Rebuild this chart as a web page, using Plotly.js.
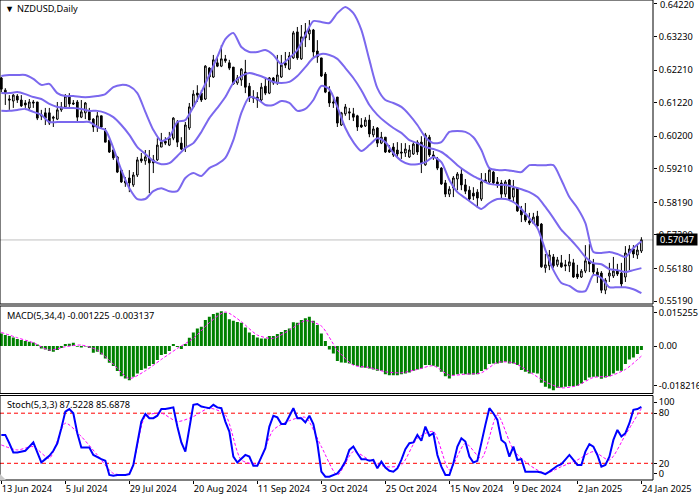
<!DOCTYPE html>
<html>
<head>
<meta charset="utf-8">
<script src="https://cdn.plot.ly/plotly-3.0.1.min.js"></script>
<style>
    html, body { margin: 0; padding: 0; background: #fff; }
</style>
</head>
<body>
<div id="chart" style="width:699px;height:497px"></div>
<script>
// daily candles, in 1/10000 of a dollar
const opens = [
    6197,6160,6133,6127,6142,6130,6121,6106,6124,6124,
    6085,6091,6091,6078,6072,6100,6109,6139,6121,6124,
    6078,6091,6094,6072,6048,6082,6036,6008,5978,5957,
    5917,5884,5893,5872,5902,5951,5945,5954,5948,5948,
    5987,6005,5993,6014,6063,5999,5984,6045,6109,6151,
    6151,6133,6227,6200,6243,6233,6255,6243,6230,6182,
    6191,6215,6172,6139,6139,6130,6172,6151,6197,6182,
    6200,6243,6224,6258,6337,6255,6337,6331,6343,6279,
    6258,6209,6154,6124,6139,6054,6088,6094,6088,6082,
    6054,6051,6069,6024,6045,5999,6017,5978,5987,5978,
    5972,5969,5957,5966,6002,6002,5933,6017,5963,5951,
    5923,5878,5844,5863,5890,5905,5872,5856,5847,5850,
    5829,5887,5881,5911,5881,5878,5844,5887,5835,5862,
    5796,5781,5762,5756,5777,5753,5620,5626,5653,5629,
    5635,5629,5626,5635,5601,5592,5610,5641,5632,5607,
    5604,5552,5595,5595,5610,5604,5592,5665,5677,5659,5671
];
const highs = [
    6200,6166,6145,6148,6148,6145,6130,6133,6130,6124,
    6100,6106,6106,6082,6124,6124,6148,6151,6130,6130,
    6130,6124,6106,6075,6094,6082,6045,6008,5981,5960,
    5917,5896,5917,5911,5957,5969,5978,5978,5963,6014,
    6030,6017,6033,6078,6069,6017,6063,6121,6160,6175,
    6160,6236,6230,6267,6258,6297,6267,6252,6230,6206,
    6227,6252,6182,6160,6154,6182,6200,6200,6200,6267,
    6267,6276,6276,6340,6352,6358,6364,6373,6346,6312,
    6258,6215,6172,6136,6139,6094,6118,6106,6106,6085,
    6075,6078,6085,6051,6048,6033,6017,5993,5999,6002,
    5999,5999,5993,6002,6008,6020,6030,6024,5975,5957,
    5926,5887,5868,5899,5911,5920,5890,5868,5865,5859,
    5908,5908,5923,5914,5896,5887,5887,5890,5887,5865,
    5808,5817,5787,5787,5793,5756,5662,5674,5662,5653,
    5659,5644,5662,5647,5629,5616,5689,5692,5647,5619,
    5610,5589,5635,5653,5632,5635,5686,5689,5689,5692,5713
];
const lows = [
    6154,6115,6100,6106,6121,6109,6106,6100,6106,6069,
    6069,6054,6054,6048,6069,6094,6106,6109,6115,6066,
    6075,6072,6069,6033,6033,6045,6002,5969,5948,5908,
    5878,5866,5850,5866,5896,5939,5933,5847,5908,5945,
    5987,5993,5990,6008,5987,5978,5972,6039,6106,6124,
    6124,6130,6169,6197,6230,6230,6243,6221,6176,6176,
    6173,6151,6124,6121,6106,6124,6145,6148,6176,6176,
    6197,6227,6221,6255,6252,6252,6291,6312,6261,6243,
    6200,6151,6109,6106,6048,6051,6082,6069,6066,6036,
    6045,6048,6017,6017,5987,5996,5969,5969,5957,5954,
    5951,5957,5954,5963,5963,5908,5930,5957,5948,5917,
    5872,5835,5835,5835,5856,5856,5844,5823,5826,5802,
    5823,5878,5878,5872,5863,5829,5835,5826,5817,5790,
    5759,5759,5750,5753,5744,5620,5605,5613,5620,5623,
    5620,5610,5607,5589,5586,5589,5604,5607,5598,5574,
    5543,5540,5577,5589,5595,5562,5577,5613,5650,5647,5665
];
const closes = [
    6163,6151,6130,6145,6130,6112,6115,6124,6121,6075,
    6082,6075,6060,6075,6100,6109,6142,6118,6118,6078,
    6094,6121,6069,6048,6082,6048,6002,5972,5954,5911,
    5881,5878,5878,5902,5948,5945,5957,5939,5939,5993,
    6002,5999,6014,6075,6002,5981,6054,6109,6148,6145,
    6130,6233,6200,6252,6233,6255,6249,6227,6179,6197,
    6224,6169,6136,6136,6130,6169,6151,6197,6182,6206,
    6236,6236,6264,6334,6258,6322,6319,6343,6276,6261,
    6203,6154,6121,6121,6060,6091,6109,6091,6078,6048,
    6048,6069,6027,6042,5999,6017,5972,5972,5963,5966,
    5969,5981,5978,5996,5972,5939,6024,5963,5957,5923,
    5875,5844,5859,5893,5905,5872,5853,5829,5838,5832,
    5881,5881,5917,5878,5875,5844,5881,5829,5862,5793,
    5781,5765,5756,5774,5747,5623,5629,5659,5626,5644,
    5623,5626,5638,5592,5592,5610,5641,5632,5607,5598,
    5552,5583,5604,5610,5601,5571,5665,5677,5662,5674,5705
];

// bollinger bands, one reading every second bar
const bandUpper = [
    6203,6206,6206,6206,6194,6176,6179,6151,6142,6142,
    6139,6139,6142,6148,6169,6176,6172,6151,6094,6039,
    6005,6017,6063,6069,6109,6154,6206,6261,6315,6334,
    6291,6276,6276,6282,6267,6239,6258,6282,6328,6370,
    6367,6364,6394,6413,6394,6343,6252,6166,6130,6121,
    6109,6085,6054,6017,5999,6002,6033,6036,6033,6017,
    5978,5923,5917,5917,5914,5911,5932,5932,5932,5932,
    5887,5835,5802,5756,5668,5665,5668,5662,5653,5680,5701
];
const bandMiddle = [
    6151,6151,6154,6148,6139,6133,6118,6109,6106,6106,
    6103,6097,6097,6091,6078,6054,6024,5987,5966,5945,
    5935,5938,5960,5984,5999,6033,6075,6106,6139,6182,
    6203,6212,6206,6197,6185,6182,6185,6203,6230,6258,
    6270,6267,6255,6227,6197,6160,6115,6085,6063,6045,
    6030,6008,5999,5987,5981,5972,5954,5932,5914,5899,
    5887,5875,5872,5872,5866,5859,5850,5835,5805,5771,
    5735,5710,5683,5653,5634,5631,5616,5613,5607,5613,5619
];
const bandLower = [
    6097,6097,6100,6103,6094,6085,6063,6063,6063,6063,
    6063,6063,6048,6039,5984,5917,5862,5829,5829,5853,
    5862,5853,5853,5893,5908,5899,5923,5935,5954,6008,
    6091,6139,6133,6115,6115,6127,6121,6097,6103,6130,
    6173,6163,6109,6045,6002,5975,5993,6014,6002,5969,
    5945,5935,5935,5941,5957,5941,5887,5850,5832,5814,
    5799,5817,5829,5829,5820,5799,5771,5741,5674,5613,
    5574,5565,5549,5549,5598,5589,5561,5561,5561,5555,5543
];

// MACD histogram per bar and signal every fourth bar, in 1/100000
const macdHist = [
    585,508,462,400,323,277,231,200,169,77,
    -108,-154,-231,-262,-185,-92,92,108,154,-31,
    -62,-15,-92,-308,-262,-385,-570,-770,-924,-1155,
    -1386,-1494,-1571,-1417,-1263,-1109,-1032,-924,-832,-647,
    -416,-370,-231,92,-46,-139,92,385,631,816,
    893,1201,1355,1478,1540,1602,1540,1232,1170,1109,
    1078,862,631,508,400,354,354,462,462,554,
    647,739,816,1093,1078,1201,1278,1355,1170,970,
    585,231,-154,-339,-693,-755,-770,-801,-878,-924,
    -986,-1001,-1032,-1078,-1140,-1140,-1294,-1340,-1340,-1340,
    -1294,-1263,-1217,-1140,-1078,-1032,-878,-878,-909,-955,
    -1186,-1386,-1494,-1340,-1294,-1263,-1294,-1309,-1309,-1294,
    -1155,-1063,-832,-801,-801,-770,-724,-801,-801,-878,
    -1109,-1186,-1263,-1232,-1263,-1694,-1879,-1956,-2033,-1925,
    -1910,-1879,-1848,-1848,-1833,-1725,-1571,-1448,-1417,-1417,
    -1509,-1448,-1386,-1263,-1140,-1140,-832,-616,-524,-370,-185
];
const macdSignal = [
    631,385,154,-185,-31,46,-185,-832,-1494,-1140,
    -616,-108,354,1078,1571,1124,508,354,739,1170,
    924,-185,-878,-986,-1186,-1232,-1078,-909,-1340,-1294,
    -1232,-755,-770,-1186,-1648,-1925,-1817,-1448,-1386,-1078,-462
];

// stochastic: %K per bar, %D every fourth bar
const stochK = [
    54,54,44,33,33,34,35,40,45,33,
    21,25,29,35,44,62,82,85,80,56,
    39,39,39,30,27,25,23,6,5,6,
    6,6,7,18,44,70,79,74,74,77,
    85,85,86,87,64,45,34,64,90,91,
    88,87,86,90,87,86,70,58,28,21,
    25,30,28,17,17,28,38,64,77,75,
    67,67,76,86,74,74,69,77,67,44,
    10,4,4,6,8,14,22,36,40,32,
    25,25,23,24,14,22,15,11,10,14,
    24,37,44,45,54,47,64,53,56,30,
    16,6,6,20,40,50,46,28,21,23,
    46,66,86,80,72,48,44,28,40,24,
    25,10,10,10,10,9,7,10,14,17,
    19,24,30,24,18,18,34,43,40,30,
    16,18,28,48,60,52,56,68,84,85,87.5
];
const stochD = [
    42,36,40,26,68,52,30,8,8,76,
    80,70,76,86,78,24,20,60,71,75,
    40,6,34,24,16,18,50,58,12,44,
    26,78,36,18,8,16,24,34,24,54,85.7
];

const tickDates = ['13 Jun 2024', '5 Jul 2024', '29 Jul 2024', '20 Aug 2024', '11 Sep 2024', '3 Oct 2024',
    '25 Oct 2024', '15 Nov 2024', '9 Dec 2024', '2 Jan 2025', '24 Jan 2025'];
const priceTicks = [0.6422, 0.6323, 0.6221, 0.6122, 0.6020, 0.5921, 0.5819, 0.5720, 0.5618, 0.5519];
const lastPrice = 0.57047;

const FONT = 'Noto Sans, sans-serif';
const FONT_SIZE = 9.2;
const BAND_COLOR = '#7b68ee';
const toPrice = v => v / 10000;

const bars = opens.map((_, i) => i);
const everyNth = n => bars.filter(i => i % n === 0);

// pixel helpers for the labels, plot area is 653 x 480
const px = x => x / 653;
const py = y => (480 - y) / 480;

const band = (values) => ({
    type: 'scatter',
    mode: 'lines',
    x: everyNth(2),
    y: values.map(toPrice),
    line: { color: BAND_COLOR, width: 2, shape: 'spline', smoothing: 0.7 },
    xaxis: 'x',
    yaxis: 'y'
});

const traces = [
    {
        type: 'candlestick',
        x: bars,
        open: opens.map(toPrice),
        high: highs.map(toPrice),
        low: lows.map(toPrice),
        close: closes.map(toPrice),
        whiskerwidth: 0,
        increasing: { line: { color: '#000', width: 1 }, fillcolor: '#fff' },
        decreasing: { line: { color: '#000', width: 1 }, fillcolor: '#000' },
        xaxis: 'x',
        yaxis: 'y'
    },
    band(bandUpper),
    band(bandMiddle),
    band(bandLower),
    {
        type: 'bar',
        x: bars,
        y: macdHist.map(v => v / 100000),
        marker: { color: '#008000', line: { width: 0 } },
        xaxis: 'x',
        yaxis: 'y2'
    },
    {
        type: 'scatter',
        mode: 'lines',
        x: everyNth(4),
        y: macdSignal.map(v => v / 100000),
        line: { color: '#ff00ff', width: 1, dash: '3px,2px', shape: 'spline', smoothing: 0.7 },
        xaxis: 'x',
        yaxis: 'y2'
    },
    {
        type: 'scatter',
        mode: 'lines',
        x: everyNth(4),
        y: stochD,
        line: { color: '#ff00ff', width: 1, dash: '3px,2px', shape: 'spline', smoothing: 0.7 },
        xaxis: 'x',
        yaxis: 'y3'
    },
    {
        type: 'scatter',
        mode: 'lines',
        x: bars,
        y: stochK,
        line: { color: '#0000ff', width: 2 },
        xaxis: 'x',
        yaxis: 'y3'
    }
];

const sideAxis = (domain, range, vals, text) => ({
    domain,
    range,
    side: 'right',
    anchor: 'x',
    tickmode: 'array',
    tickvals: vals,
    ticktext: text,
    ticks: 'outside',
    ticklen: 3,
    tickcolor: '#000',
    showgrid: false,
    zeroline: false,
    showline: false,
    automargin: false,
    fixedrange: true
});

const paneFrame = (ref) => ({
    type: 'rect',
    xref: 'paper',
    yref: ref + ' domain',
    x0: 0, x1: 1, y0: 0, y1: 1,
    line: { color: '#000', width: 1 },
    layer: 'above'
});

const levelLine = (value) => ({
    type: 'line',
    xref: 'paper',
    yref: 'y3',
    x0: 0, x1: 1, y0: value, y1: value,
    line: { color: '#ff0000', width: 1, dash: '4px,3px' },
    layer: 'below'
});

const paneLabel = (text, x, y, color) => ({
    text,
    xref: 'paper',
    yref: 'paper',
    x: px(x),
    y: py(y),
    xanchor: 'left',
    yanchor: 'middle',
    showarrow: false,
    font: { family: FONT, size: FONT_SIZE, color: color || '#000' }
});

const layout = {
    width: 699,
    height: 497,
    margin: { l: 0, r: 46, t: 0, b: 17 },
    paper_bgcolor: '#fff',
    plot_bgcolor: '#fff',
    showlegend: false,
    bargap: 0.25,
    boxgap: 0.4,
    font: { family: FONT, size: FONT_SIZE, color: '#000' },
    xaxis: {
        range: [-0.33, 162.9],
        anchor: 'y3',
        rangeslider: { visible: false },
        tickmode: 'array',
        tickvals: everyNth(16),
        ticktext: tickDates,
        tickangle: 0,
        ticks: 'outside',
        ticklen: 3,
        tickcolor: '#000',
        ticklabelposition: 'outside right',
        showgrid: false,
        zeroline: false,
        fixedrange: true
    },
    // the top price label gets cut by the edge as a tick, so it is an annotation below
    yaxis: sideAxis([py(304), py(0)], [0.5510, 0.6434], priceTicks,
        priceTicks.map((v, i) => (i === 0 ? '' : v.toFixed(5)))),
    yaxis2: sideAxis([py(393.5), py(306)], [-0.02187, 0.01848], [0.015255, 0, -0.018216], ['0.015255', '0.00', '-0.018216']),
    yaxis3: sideAxis([py(480), py(395.5)], [0, 101.2], [93.2, 80, 20, 7.6], ['100', '80', '20', '0']),
    shapes: [
        {
            type: 'line',
            xref: 'paper',
            yref: 'y',
            x0: 0, x1: 1, y0: lastPrice, y1: lastPrice,
            line: { color: '#c0c0c0', width: 1 },
            layer: 'below'
        },
        levelLine(80),
        levelLine(20),
        paneFrame('y'),
        paneFrame('y2'),
        paneFrame('y3'),
        // little corner mark bottom left
        {
            type: 'path',
            xref: 'paper',
            yref: 'paper',
            path: `M 0 ${py(474)} L ${px(6)} ${py(480)} L 0 ${py(480)} Z`,
            fillcolor: '#c8c8c8',
            line: { width: 0 }
        }
    ],
    annotations: [
        paneLabel('▼', 3, 8),
        paneLabel('NZDUSD,Daily', 15, 8),
        paneLabel('MACD(5,34,4) -0.001225 -0.003137', 5, 315),
        paneLabel('Stoch(5,3,3) 87.5228 85.6878', 5, 404),
        paneLabel('0.64220', 658, 4.5),
        {
            text: '0.57047',
            xref: 'paper',
            yref: 'y',
            x: px(656),
            y: lastPrice,
            xanchor: 'left',
            yanchor: 'middle',
            width: 40,
            height: 11,
            align: 'center',
            showarrow: false,
            bgcolor: '#000',
            borderpad: 0,
            font: { family: FONT, size: FONT_SIZE, color: '#fff' }
        }
    ]
};

Plotly.newPlot('chart', traces, layout, { displayModeBar: false, staticPlot: true });
</script>
</body>
</html>
